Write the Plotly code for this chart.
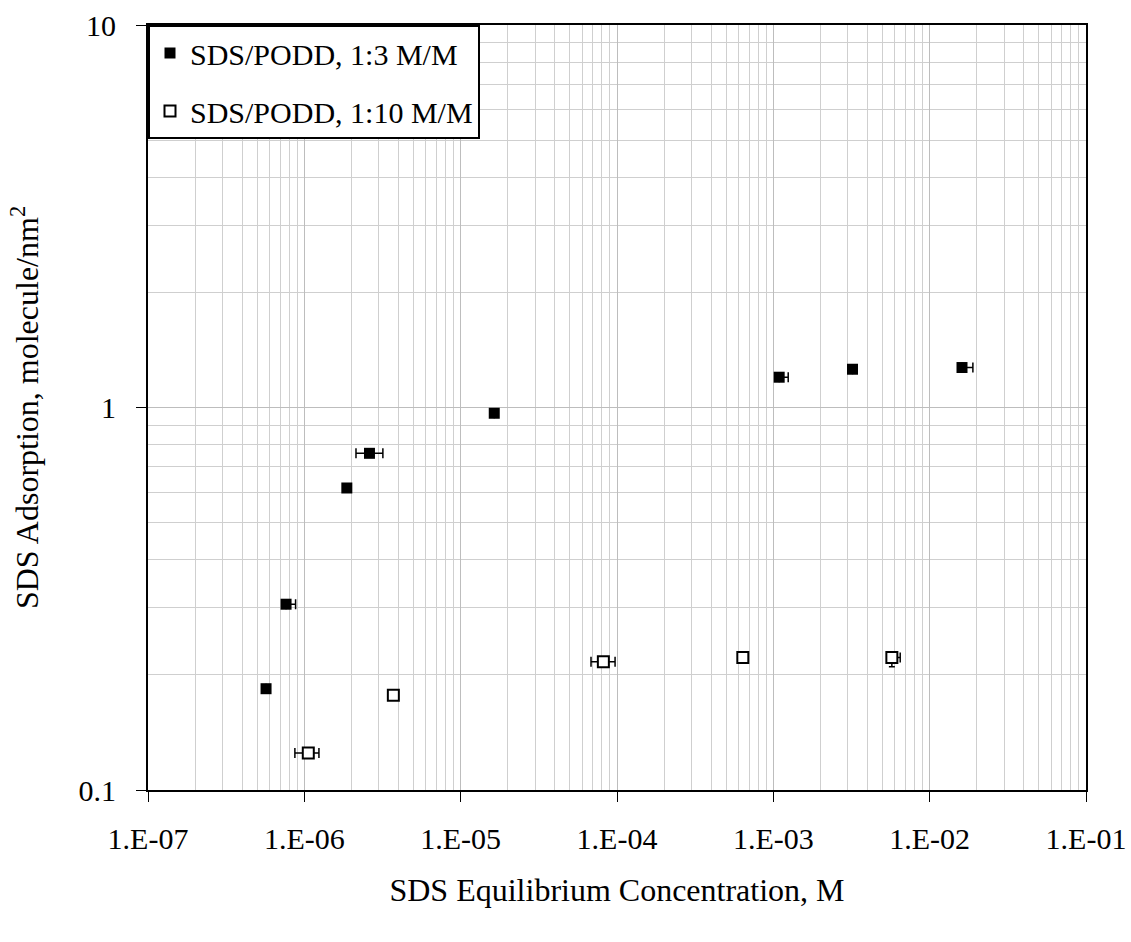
import plotly.graph_objects as go

# SDS/PODD 1:3 M/M
conc_13 = [5.69e-7, 7.64e-7, 1.87e-6, 2.61e-6, 1.64e-5, 1.09e-3, 3.21e-3, 1.61e-2]
ads_13 = [0.184, 0.306, 0.616, 0.759, 0.966, 1.20, 1.259, 1.272]
xerr_plus_13 = [0, 0.115e-6, 0, 0.57e-6, 0, 0.155e-3, 0, 2.8e-3]
xerr_minus_13 = [0, 0, 0, 0.47e-6, 0, 0, 0, 0]

# SDS/PODD 1:10 M/M
conc_110 = [1.06e-6, 3.71e-6, 8.18e-5, 6.38e-4, 5.73e-3]
ads_110 = [0.125, 0.177, 0.2165, 0.222, 0.222]
xerr_plus_110 = [0.18e-6, 0, 1.54e-5, 0, 0.75e-3]
xerr_minus_110 = [0.19e-6, 0, 1.36e-5, 0, 0]
yerr_minus_110 = [0, 0, 0, 0, 0.012]

x_tickvals = [1e-7, 1e-6, 1e-5, 1e-4, 1e-3, 1e-2, 1e-1]
x_ticktext = ["1.E-07", "1.E-06", "1.E-05", "1.E-04", "1.E-03", "1.E-02", "1.E-01"]
y_tickvals = [0.1, 1, 10]
y_ticktext = ["0.1", "1", "10"]

FONT = "Liberation Serif, Times New Roman, serif"

fig = go.Figure()
fig.add_trace(go.Scatter(
    x=conc_13, y=ads_13, mode="markers", name="SDS/PODD, 1:3 M/M",
    legendgroup="a",
    marker=dict(symbol="square", size=11, color="black"),
    error_x=dict(type="data", symmetric=False, array=xerr_plus_13,
                 arrayminus=xerr_minus_13, color="black", thickness=1.5, width=5),
))
fig.add_trace(go.Scatter(
    x=conc_110, y=ads_110, mode="markers", name="SDS/PODD, 1:10 M/M",
    legendgroup="b",
    marker=dict(symbol="square", size=11, color="white",
                line=dict(width=2, color="black")),
    error_x=dict(type="data", symmetric=False, array=xerr_plus_110,
                 arrayminus=xerr_minus_110, color="black", thickness=1.5, width=5),
    error_y=dict(type="data", symmetric=False, array=[0] * len(yerr_minus_110),
                 arrayminus=yerr_minus_110, color="black", thickness=1.5, width=3),
))

grid_major = "#bdbdbd"
grid_minor = "#cfcfcf"

fig.update_xaxes(
    type="log", range=[-7, -1], automargin=False,
    tickvals=x_tickvals, ticktext=x_ticktext,
    ticks="outside", ticklen=10, tickwidth=1, tickcolor="black",
    showline=True, linecolor="black", linewidth=2, mirror=True,
    showgrid=True, gridcolor=grid_major, gridwidth=1,
    minor=dict(dtick="D1", showgrid=True, gridcolor=grid_minor, gridwidth=1, ticks=""),
    tickfont=dict(family=FONT, size=30, color="black"),
    ticklabelstandoff=11,
    title=dict(text="SDS Equilibrium Concentration, M",
               font=dict(family=FONT, size=32, color="black"), standoff=25),
    zeroline=False,
)
fig.update_yaxes(
    type="log", range=[-1, 1], automargin=False,
    tickvals=y_tickvals, ticktext=y_ticktext,
    ticks="outside", ticklen=10, tickwidth=1, tickcolor="black",
    showline=True, linecolor="black", linewidth=2, mirror=True,
    showgrid=True, gridcolor=grid_major, gridwidth=1,
    minor=dict(dtick="D1", showgrid=True, gridcolor=grid_minor, gridwidth=1, ticks=""),
    tickfont=dict(family=FONT, size=30, color="black"),
    ticklabelstandoff=14,
    title=dict(text="SDS Adsorption, molecule/nm<sup>2</sup>",
               font=dict(family=FONT, size=32, color="black"), standoff=30),
    zeroline=False,
)

fig.update_layout(
    width=1131, height=942,
    margin=dict(l=148, r=45, t=25, b=152),
    paper_bgcolor="white", plot_bgcolor="white",
    showlegend=True,
    legend=dict(
        x=0, y=1, xanchor="left", yanchor="top",
        bgcolor="white", bordercolor="black", borderwidth=2,
        font=dict(family=FONT, size=30, color="black"),
        traceorder="grouped", tracegroupgap=16,
        itemwidth=30,
    ),
)

fig.write_html("out.html")
